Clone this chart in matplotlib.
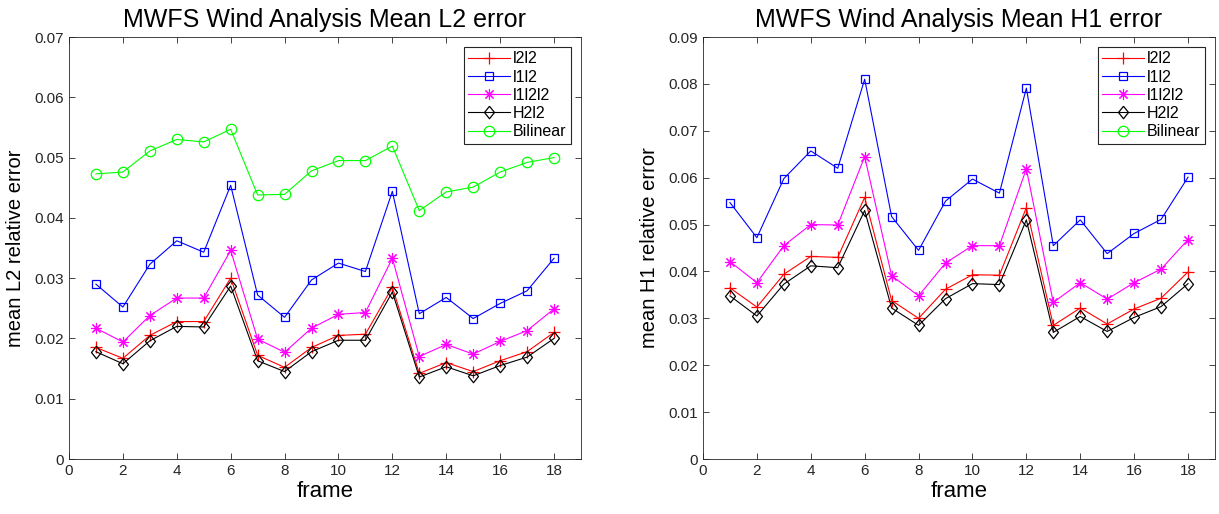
import numpy as np
import matplotlib
matplotlib.use('Agg')
import matplotlib.pyplot as plt

plt.rcParams['font.family'] = ['Liberation Sans', 'DejaVu Sans']

frames = list(range(1, 19))
labels = ['l2l2', 'l1l2', 'l1l2l2', 'H2l2', 'Bilinear']

# 左图 mean L2 relative error
l2_l2l2 = [0.0185, 0.0167, 0.0205, 0.0228, 0.0228, 0.0300, 0.0172, 0.0152, 0.0185,
           0.0205, 0.0207, 0.0285, 0.0142, 0.0160, 0.0145, 0.0163, 0.0178, 0.0210]
l2_l1l2 = [0.0290, 0.0252, 0.0323, 0.0362, 0.0343, 0.0454, 0.0272, 0.0235, 0.0297,
           0.0325, 0.0311, 0.0444, 0.0241, 0.0268, 0.0233, 0.0258, 0.0279, 0.0333]
l2_l1l2l2 = [0.0217, 0.0194, 0.0238, 0.0267, 0.0267, 0.0346, 0.0199, 0.0177, 0.0217,
             0.0240, 0.0243, 0.0333, 0.0170, 0.0190, 0.0174, 0.0195, 0.0213, 0.0249]
l2_h2l2 = [0.0178, 0.0158, 0.0196, 0.0220, 0.0219, 0.0287, 0.0163, 0.0145, 0.0178,
           0.0197, 0.0197, 0.0277, 0.0136, 0.0153, 0.0138, 0.0155, 0.0169, 0.0200]
l2_bilinear = [0.0473, 0.0476, 0.0511, 0.0530, 0.0526, 0.0547, 0.0438, 0.0439, 0.0478,
               0.0495, 0.0495, 0.0519, 0.0412, 0.0443, 0.0451, 0.0476, 0.0492, 0.0500]

# 右图 mean H1 relative error (Bilinear 没有画出来)
h1_l2l2 = [0.0365, 0.0324, 0.0394, 0.0432, 0.0430, 0.0558, 0.0338, 0.0300, 0.0362,
           0.0393, 0.0392, 0.0536, 0.0285, 0.0322, 0.0288, 0.0320, 0.0343, 0.0399]
h1_l1l2 = [0.0547, 0.0472, 0.0598, 0.0657, 0.0620, 0.0810, 0.0517, 0.0445, 0.0550,
           0.0597, 0.0567, 0.0791, 0.0455, 0.0510, 0.0438, 0.0481, 0.0511, 0.0601]
h1_l1l2l2 = [0.0421, 0.0376, 0.0455, 0.0500, 0.0499, 0.0645, 0.0391, 0.0348, 0.0418,
             0.0455, 0.0455, 0.0619, 0.0334, 0.0376, 0.0341, 0.0376, 0.0405, 0.0468]
h1_h2l2 = [0.0348, 0.0305, 0.0373, 0.0412, 0.0408, 0.0530, 0.0322, 0.0285, 0.0342,
           0.0374, 0.0372, 0.0510, 0.0270, 0.0304, 0.0272, 0.0302, 0.0325, 0.0374]
h1_bilinear = [np.nan] * 18

# MATLAB 风格的菱形
diamond = [(0, 1), (0.8, 0), (0, -1), (-0.8, 0), (0, 1)]

styles = [
    dict(color='#ff0000', marker='+', ms=8, mew=0.9),
    dict(color='#0000ff', marker='s', ms=6, mfc='none', mew=0.9),
    dict(color='#ff00ff', marker=(8, 2, 0), ms=8, mew=0.8),
    dict(color='#000000', marker=diamond, ms=9, mfc='none', mew=0.9),
    dict(color='#00ff00', marker='o', ms=7.5, mfc='none', mew=0.9),
]

fig = plt.figure(figsize=(12.19, 5.14), dpi=100)
ax1 = fig.add_axes([0.0566, 0.107, 0.420, 0.821])
ax2 = fig.add_axes([0.5767, 0.107, 0.420, 0.821])


def draw(ax, series, title, ylabel, ymax, yticks):
    for s, lab, st in zip(series, labels, styles):
        ax.plot(frames, s, lw=0.8, label=lab, **st)
    ax.set_xlim(0, 19)
    ax.set_xticks(range(0, 19, 2))
    ax.set_ylim(0, ymax)
    ax.set_yticks(yticks)
    ax.set_yticklabels(['0'] + ['%g' % t for t in yticks[1:]])
    ax.tick_params(direction='in', top=True, right=True, labelsize=11,
                   colors='#262626', length=4, width=0.6)
    for sp in ax.spines.values():
        sp.set_color('#262626')
        sp.set_linewidth(0.6)
    ax.set_title(title, fontsize=18, pad=7)
    ax.set_xlabel('frame', fontsize=16, labelpad=2)
    ax.set_ylabel(ylabel, fontsize=14.5, labelpad=7)
    leg = ax.legend(loc='upper right', fontsize=11.5, fancybox=False,
                    edgecolor='#262626', framealpha=1, handlelength=2.6,
                    borderaxespad=0.6, labelspacing=0.2, handletextpad=0.2,
                    borderpad=0.3)
    leg.get_frame().set_linewidth(0.8)


draw(ax1, [l2_l2l2, l2_l1l2, l2_l1l2l2, l2_h2l2, l2_bilinear],
     'MWFS Wind Analysis Mean L2 error', 'mean L2 relative error', 0.07,
     [0, 0.01, 0.02, 0.03, 0.04, 0.05, 0.06, 0.07])
draw(ax2, [h1_l2l2, h1_l1l2, h1_l1l2l2, h1_h2l2, h1_bilinear],
     'MWFS Wind Analysis Mean H1 error', 'mean H1 relative error', 0.09,
     [0, 0.01, 0.02, 0.03, 0.04, 0.05, 0.06, 0.07, 0.08, 0.09])

fig.savefig('out.png', dpi=100)
